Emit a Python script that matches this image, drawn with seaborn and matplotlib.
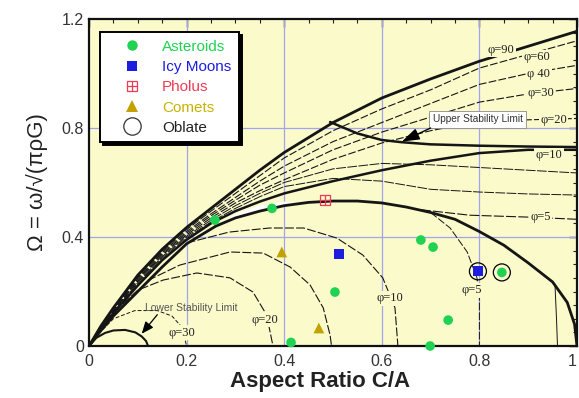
import numpy as np
import pandas as pd
import matplotlib
matplotlib.use("Agg")
import matplotlib.pyplot as plt
import seaborn as sns
from matplotlib.lines import Line2D
from matplotlib.legend_handler import HandlerTuple
from matplotlib.ticker import MultipleLocator, FixedFormatter, FixedLocator

sns.set_theme(style="white")
plt.rcParams["font.family"] = ["Liberation Sans", "DejaVu Sans"]

BG = "#fafacb"

# ---------------- data ----------------
x_band = [0, 0.025, 0.05, 0.1, 0.15, 0.2, 0.25, 0.3, 0.35, 0.4, 0.5, 0.6, 0.7, 0.8, 0.9, 1.0]
phi90 = [0, .075, .14, .26, .355, .435, .505, .575, .645, .71, .82, .91, .98, 1.045, 1.10, 1.155]
phi60 = [0, .072, .135, .253, .348, .427, .495, .56, .625, .69, .79, .87, .94, 1.02, 1.07, 1.12]
phi40 = [0, .070, .130, .248, .343, .42, .485, .545, .605, .66, .75, .82, .89, .96, 1.00, 1.03]
phi30 = [0, .068, .128, .243, .338, .414, .478, .535, .59, .635, .72, .785, .84, .895, .925, .945]
phi20 = [0, .067, .126, .238, .333, .408, .47, .525, .57, .61, .685, .745, .79, .825, .83, .835]
phi15 = [0, .066, .124, .233, .328, .403, .462, .515, .56, .60, .65, .67, .665, .655, .645, .635]
phi12 = [0, .065, .122, .228, .323, .398, .455, .505, .548, .585, .615, .605, .575, .565, .558, .554]
phi10 = [0, .064, .12, .222, .315, .39, .45, .495, .53, .56, .605, .645, .68, .708, .72, .72]

x_fluid = [0, 0.025, 0.05, 0.1, 0.15, 0.2, 0.26, 0.3, 0.35, 0.4, 0.45, 0.5, 0.55, 0.6, 0.65, 0.7,
           0.75, 0.8, 0.85, 0.9, 0.95, 0.98, 0.995, 1.0]
y_fluid = [0, .058, .11, .2, .29, .375, .44, .47, .495, .515, .527, .532, .532, .525, .51, .49,
           .465, .42, .37, .305, .235, .16, .08, 0]

x_gap = [0.26, 0.3, 0.35, 0.4, 0.43]
y_gap_lo = [0.44, 0.47, 0.495, 0.515, 0.524]
y_gap_hi = [0.442, 0.488, 0.518, 0.532, 0.526]

x_upper_lim = [0.494, 0.55, 0.6, 0.64, 0.7, 0.8, 0.9, 1.0]
y_upper_lim = [0.822, 0.78, 0.756, 0.748, 0.74, 0.735, 0.732, 0.73]

x_phi5_up = [0.68, 0.78, 0.9, 1.0]
y_phi5_up = [0.50, 0.48, 0.473, 0.465]

x_phi5_low = [0.70, 0.74, 0.775, 0.795, 0.80, 0.80]
y_phi5_low = [0.49, 0.433, 0.345, 0.25, 0.187, 0]
x_phi10_low = [0.2, 0.287, 0.37, 0.44, 0.508, 0.561, 0.602, 0.627, 0.633]
y_phi10_low = [0.378, 0.418, 0.433, 0.433, 0.396, 0.334, 0.25, 0.14, 0]
x_phi15_low = [0.12, 0.186, 0.289, 0.357, 0.412, 0.453, 0.48, 0.494, 0.497]
y_phi15_low = [0.24, 0.297, 0.345, 0.341, 0.29, 0.224, 0.14, 0.04, 0]
x_phi20_low = [0.07, 0.1, 0.152, 0.221, 0.289, 0.336, 0.364, 0.377]
y_phi20_low = [0.155, 0.205, 0.242, 0.268, 0.25, 0.198, 0.114, 0]
x_phi30_low = [0.02, 0.05, 0.094, 0.14, 0.17, 0.19, 0.2]
y_phi30_low = [0.045, 0.10, 0.13, 0.13, 0.11, 0.07, 0]
x_phi2_low = [0.955, 0.958, 0.96]
y_phi2_low = [0.22, 0.1, 0]
x_lower_lim = [0, 0.015, 0.033, 0.05, 0.074, 0.095, 0.108, 0.117, 0.121]
y_lower_lim = [0, 0.03, 0.048, 0.057, 0.059, 0.05, 0.035, 0.018, 0]

ast_x = [0.258, 0.375, 0.414, 0.504, 0.68, 0.705, 0.736, 0.699, 0.846]
ast_y = [0.462, 0.505, 0.013, 0.198, 0.389, 0.363, 0.095, 0.0, 0.27]
icy_x = [0.512, 0.797]
icy_y = [0.337, 0.274]
pholus_x = [0.484]
pholus_y = [0.535]
comet_x = [0.395, 0.471]
comet_y = [0.345, 0.066]
oblate_x = [0.797, 0.846]
oblate_y = [0.274, 0.27]

xtick_vals = [0, 0.2, 0.4, 0.6, 0.8, 1.0]
xtick_labels = ["0", "0.2", "0.4", "0.6", "0.8", "1"]
ytick_vals = [0, 0.4, 0.8, 1.2]
ytick_labels = ["0", "0.4", "0.8", "1.2"]

legend_names = ["Asteroids", "Icy Moons", "Pholus", "Comets", "Oblate"]

C_AST = "#1fd252"
C_ICY = "#1d1de0"
C_PHO = "#ee3a55"
C_COM = "#c3a200"
C_COM_TXT = "#c8b400"

# ---------------- figure ----------------
fig = plt.figure(figsize=(5.79, 3.98), dpi=100)
ax = fig.add_axes([89 / 579, 52 / 398, 488 / 579, 327 / 398])
ax.set_facecolor(BG)
ax.set_xlim(0, 1)
ax.set_ylim(0, 1.2)

# grid
for gx in [0.2, 0.4, 0.6, 0.8]:
    ax.axvline(gx, color="#a3a3ee", lw=0.9, zorder=1)
for gy in [0.4, 0.8]:
    ax.axhline(gy, color="#a3a3ee", lw=0.9, zorder=1)

K = "#151515"


def curve(xs, ys, lw=0.8, dashes=None, color=K, z=3):
    sns.lineplot(x=xs, y=ys, ax=ax, color=color, linewidth=lw, sort=False,
                 estimator=None, legend=False, zorder=z)
    line = ax.lines[-1]
    if dashes is not None:
        line.set_dashes(dashes)
    return line


ax.fill_between(x_gap, y_gap_lo, y_gap_hi, color="white", lw=0, zorder=2)

# band of upper curves
curve(x_band, phi60, 0.8, (7, 2))
curve(x_band, phi40, 0.8, (7, 2))
curve(x_band, phi30, 0.8, (7, 2))
curve(x_band, phi20, 0.8, (7, 2))
curve(x_band, phi15, 0.7, (10, 1.5))
curve(x_band, phi12, 0.7, (10, 1.5))
curve(x_band, phi10, 1.8)
curve(x_band, phi90, 2.0)
curve(x_fluid, y_fluid, 2.0)
curve(x_upper_lim, y_upper_lim, 1.8)
curve(x_phi5_up, y_phi5_up, 0.8, (9, 2))
# lower arcs
curve(x_phi5_low, y_phi5_low, 0.7, (8, 2))
curve(x_phi10_low, y_phi10_low, 0.8, (8, 2))
curve(x_phi15_low, y_phi15_low, 0.8, (8, 2))
curve(x_phi20_low, y_phi20_low, 0.8, (8, 2))
curve(x_phi30_low, y_phi30_low, 0.7, (4, 2))
curve(x_phi2_low, y_phi2_low, 0.7)
curve(x_lower_lim, y_lower_lim, 1.5)

# phi labels
lab_kw = dict(fontsize=9, family=["Liberation Serif", "DejaVu Serif"], color="#202020",
              ha="center", va="center", zorder=5,
              bbox=dict(boxstyle="square,pad=0.12", fc=BG, ec="none"))
ax.text(0.845, 1.088, "φ=90", **lab_kw)
ax.text(0.917, 1.06, "φ=60", **lab_kw)
ax.text(0.922, 1.0, "φ 40", **lab_kw)
ax.text(0.925, 0.93, "φ=30", **lab_kw)
ax.text(0.952, 0.83, "φ=20", **lab_kw)
ax.text(0.943, 0.70, "φ=10", **lab_kw)
ax.text(0.925, 0.473, "φ=5", **lab_kw)
ax.text(0.785, 0.205, "φ=5", **lab_kw)
ax.text(0.617, 0.176, "φ=10", **lab_kw)
ax.text(0.36, 0.097, "φ=20", **lab_kw)
ax.text(0.19, 0.048, "φ=30", **lab_kw)

# stability limit annotations
ax.text(0.797, 0.832, "Upper Stability Limit", fontsize=7.3, color="#333333",
        ha="center", va="center", zorder=6,
        bbox=dict(boxstyle="square,pad=0.35", fc="white", ec="#8a8a8a", lw=0.6))
ax.annotate("", xy=(0.641, 0.75), xytext=(0.70, 0.80),
            arrowprops=dict(arrowstyle="-|>,head_length=0.9,head_width=0.3",
                            color="black", lw=1.0, shrinkA=0, shrinkB=0), zorder=6)
ax.text(0.21, 0.14, "Lower Stability Limit", fontsize=7.5, color="#555555",
        ha="center", va="center", zorder=5)
ax.annotate("", xy=(0.108, 0.045), xytext=(0.14, 0.115),
            arrowprops=dict(arrowstyle="-|>,head_length=0.6,head_width=0.25",
                            color="black", lw=0.9, shrinkA=0, shrinkB=0), zorder=6)

# data points
sns.scatterplot(x=oblate_x, y=oblate_y, ax=ax, marker="o", s=150, facecolor="none",
                edgecolor="black", linewidth=0.9, zorder=7, clip_on=False, legend=False)
sns.scatterplot(x=ast_x, y=ast_y, ax=ax, marker="o", s=48, color=C_AST, edgecolor="none",
                zorder=8, clip_on=False, legend=False)
sns.scatterplot(x=icy_x, y=icy_y, ax=ax, marker="s", s=55, color=C_ICY, edgecolor="none",
                zorder=8, legend=False)
sns.scatterplot(x=pholus_x, y=pholus_y, ax=ax, marker="s", s=50, facecolor="none",
                edgecolor=C_PHO, linewidth=0.9, zorder=8, legend=False)
sns.scatterplot(x=pholus_x, y=pholus_y, ax=ax, marker="+", s=50, color=C_PHO,
                linewidth=0.9, zorder=8, legend=False)
sns.scatterplot(x=comet_x, y=comet_y, ax=ax, marker="^", s=60, color=C_COM, edgecolor="none",
                zorder=8, legend=False)

# axes styling
ax.xaxis.set_major_locator(FixedLocator(xtick_vals))
ax.xaxis.set_major_formatter(FixedFormatter(xtick_labels))
ax.yaxis.set_major_locator(FixedLocator(ytick_vals))
ax.yaxis.set_major_formatter(FixedFormatter(ytick_labels))
ax.xaxis.set_minor_locator(MultipleLocator(0.05))
ax.yaxis.set_minor_locator(MultipleLocator(0.05))
ax.tick_params(which="both", direction="in", top=True, right=True, colors="#222222",
               labelcolor="#333333", labelsize=11.5)
ax.tick_params(which="major", length=6, width=1.0)
ax.tick_params(which="minor", length=3, width=0.8)
ax.tick_params(axis="x", which="major", pad=6)
for sp in ax.spines.values():
    sp.set_color("#111111")
    sp.set_linewidth(1.6)
fig.canvas.draw()
ax.get_xticklabels()[-1].set_horizontalalignment("right")

ax.set_xlabel("Aspect Ratio C/A", fontsize=16, fontweight="bold", color="#222222")
ax.xaxis.set_label_coords(0.473, -0.075)
ax.set_ylabel("Ω = ω/√(πρG)", fontsize=16, color="#222222", labelpad=10)

# legend
h_ast = Line2D([], [], marker="o", ls="none", color=C_AST, markersize=7.5, markeredgewidth=0)
h_icy = Line2D([], [], marker="s", ls="none", color=C_ICY, markersize=7.5, markeredgewidth=0)
h_pho1 = Line2D([], [], marker="s", ls="none", markerfacecolor="none", markeredgecolor=C_PHO,
                markersize=7, markeredgewidth=0.9)
h_pho2 = Line2D([], [], marker="+", ls="none", color=C_PHO, markersize=7, markeredgewidth=0.9)
h_com = Line2D([], [], marker="^", ls="none", color=C_COM, markersize=8.5, markeredgewidth=0)
h_obl = Line2D([], [], marker="o", ls="none", markerfacecolor="none", markeredgecolor="#333333",
               markersize=12.5, markeredgewidth=0.9)
leg = ax.legend([h_ast, h_icy, (h_pho1, h_pho2), h_com, h_obl], legend_names,
                handler_map={tuple: HandlerTuple(ndivide=1, pad=0)},
                loc="upper left", bbox_to_anchor=(0.0225, 0.96), borderaxespad=0,
                fontsize=11, frameon=True, fancybox=False, framealpha=1,
                edgecolor="black", facecolor="white",
                shadow={"color": "black", "alpha": 1.0},
                labelspacing=0.41, handlelength=3.2, handletextpad=0.35, borderpad=0.5)
leg.get_frame().set_linewidth(1.4)
leg.set_zorder(10)
for t, c in zip(leg.get_texts(), [C_AST, C_ICY, C_PHO, C_COM_TXT, "#222222"]):
    t.set_color(c)

fig.savefig("out.png", dpi=100, facecolor="white")
